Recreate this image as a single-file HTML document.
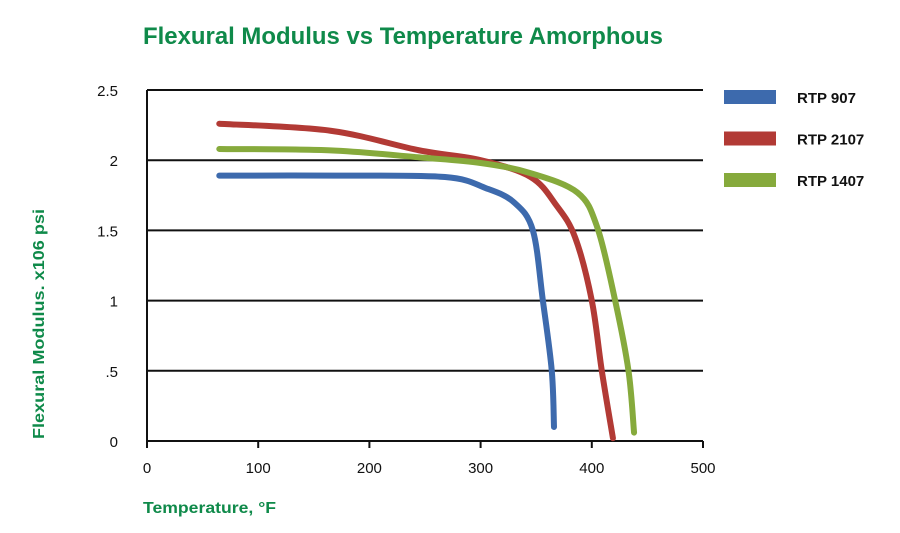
<!DOCTYPE html>
<html><head><meta charset="utf-8"><style>
body{margin:0;background:#fff}
svg{display:block;font-family:"Liberation Sans",sans-serif}
</style></head><body>
<svg width="900" height="533" viewBox="0 0 900 533">
<text x="143" y="44" font-size="24" font-weight="bold" fill="#0f8a4a" textLength="520" lengthAdjust="spacingAndGlyphs">Flexural Modulus vs Temperature Amorphous</text>
<g id="grid"></g>
<g id="axes"></g>
<g id="series"></g>
<g id="legend"></g>
<text x="143" y="513" font-size="16" font-weight="bold" fill="#0f8a4a" textLength="133" lengthAdjust="spacingAndGlyphs">Temperature, °F</text>
<text transform="translate(44,439) rotate(-90)" font-size="16" font-weight="bold" fill="#0f8a4a" textLength="230" lengthAdjust="spacingAndGlyphs">Flexural Modulus. x106 psi</text>
</svg>
<script>
const xTicks=[0,100,200,300,400,500];
const yTicks=[0,0.5,1,1.5,2,2.5];
const yTickLabels=["0",".5","1","1.5","2","2.5"];
const seriesNames=["RTP 907","RTP 2107","RTP 1407"];
const seriesColors=["#3d6aad","#b23a35","#86aa3c"];
const temps907=[65,170,268,305,330,347,356,364,366];
const vals907=[1.89,1.89,1.88,1.8,1.7,1.5,1.0,0.5,0.1];
const temps2107=[65,165,245,300,345,368,385,400,409,419];
const vals2107=[2.26,2.21,2.07,2.0,1.88,1.68,1.45,1.0,0.5,0.02];
const temps1407=[65,165,245,300,344,387,405,421,433,438];
const vals1407=[2.08,2.07,2.02,1.98,1.91,1.77,1.52,1.0,0.5,0.06];
const seriesT=[temps907,temps2107,temps1407];
const seriesV=[vals907,vals2107,vals1407];
const NS="http://www.w3.org/2000/svg";
const X0=147,X1=703,Y0=441,Y1=90;
const xs=t=>X0+(t-0)/(500-0)*(X1-X0);
const ys=v=>Y0-(v-0)/(2.5-0)*(Y0-Y1);
function mk(tag,attrs,parent){const e=document.createElementNS(NS,tag);for(const k in attrs)e.setAttribute(k,attrs[k]);parent.appendChild(e);return e;}
const grid=document.getElementById('grid'),axes=document.getElementById('axes'),ser=document.getElementById('series'),leg=document.getElementById('legend');
yTicks.forEach((v,i)=>{
 if(v>0){const l=mk('line',{x1:X0,x2:X1,y1:ys(v),y2:ys(v),stroke:'#111','stroke-width':2},grid);
 
 }
 const t=mk('text',{x:118,y:ys(v)+6,'text-anchor':'end','font-size':15,fill:'#111'},axes);
 t.textContent=yTickLabels[i];
 
 
});
const ax=mk('line',{x1:X0,x2:X1,y1:Y0,y2:Y0,stroke:'#111','stroke-width':2},axes);


const ay=mk('line',{x1:X0,x2:X0,y1:Y1,y2:Y0+6,stroke:'#111','stroke-width':2},axes);


xTicks.forEach(t=>{
 const tk=mk('line',{x1:xs(t),x2:xs(t),y1:Y0,y2:Y0+7,stroke:'#111','stroke-width':2},axes);
 
 
 const lb=mk('text',{x:xs(t),y:473,'text-anchor':'middle','font-size':15,fill:'#111'},axes);
 lb.textContent=t;
 
 
});
function smooth(pts){let d='M'+pts[0][0]+','+pts[0][1];
 for(let i=0;i<pts.length-1;i++){const p0=pts[i-1]||pts[i],p1=pts[i],p2=pts[i+1],p3=pts[i+2]||p2;
  const c1=[p1[0]+(p2[0]-p0[0])/6,p1[1]+(p2[1]-p0[1])/6],c2=[p2[0]-(p3[0]-p1[0])/6,p2[1]-(p3[1]-p1[1])/6];
  d+=' C'+c1+' '+c2+' '+p2;}return d;}
seriesNames.forEach((n,s)=>{
 const pts=seriesT[s].map((t,i)=>[xs(t),ys(seriesV[s][i])]);
 const p=mk('path',{d:smooth(pts),fill:'none',stroke:seriesColors[s],'stroke-width':6,'stroke-linecap':'round','stroke-linejoin':'round'},ser);
 
 
 const g=mk('g',{},leg);
 
 
 mk('rect',{x:724,y:90+s*41.5,width:52,height:14,fill:seriesColors[s]},g);
 const tx=mk('text',{x:797,y:103+s*41.5,'font-size':15,'font-weight':'bold',fill:'#111'},g);
 tx.textContent=n;
});
</script>
</body></html>
